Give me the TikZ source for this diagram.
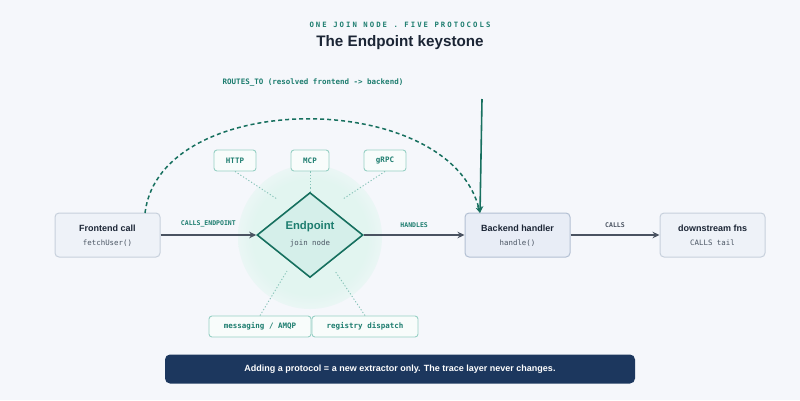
\documentclass[tikz,border=0pt]{standalone}
\usepackage{fontspec}
\setmainfont{Liberation Sans}
\setmonofont{DejaVu Sans Mono}
\newfontfamily\spacedmono[LetterSpace=28]{DejaVu Sans Mono}
\usetikzlibrary{arrows.meta,shapes.geometric,calc}
\definecolor{bgc}{HTML}{F5F7FB}
\definecolor{teal}{HTML}{1D7D6F}
\definecolor{tealdark}{HTML}{17705F}
\definecolor{titlec}{HTML}{1B2535}
\definecolor{grayt}{HTML}{4A5563}
\definecolor{arrowc}{HTML}{4A5361}
\definecolor{boxfill}{HTML}{EEF2F8}
\definecolor{boxline}{HTML}{C7D0DC}
\definecolor{backfill}{HTML}{E8EDF6}
\definecolor{backline}{HTML}{B3C0D3}
\definecolor{glowc}{HTML}{E2F5F0}
\definecolor{diafill}{HTML}{D5EFEA}
\definecolor{protoline}{HTML}{97D0C4}
\definecolor{protofill}{HTML}{F8FCFB}
\definecolor{dotc}{HTML}{86C3B8}
\definecolor{bannerc}{HTML}{1C375E}
\pgfdeclareradialshading{glowshade}{\pgfpoint{0bp}{0bp}}{color(0bp)=(glowc); color(20bp)=(glowc); color(31bp)=(bgc); color(50bp)=(bgc)}
\tikzset{
  card/.style={draw=boxline, fill=boxfill, line width=1pt, rounded corners=4pt, minimum width=105pt, minimum height=44pt, inner sep=0pt},
  cardtitle/.style={font=\fontsize{9}{10}\selectfont\bfseries, text=titlec, inner sep=0pt},
  cardsub/.style={font=\fontsize{7.4}{9}\ttfamily, text=grayt, inner sep=0pt},
  proto/.style={draw=protoline, fill=protofill, line width=0.9pt, rounded corners=3pt, minimum height=21pt, inner sep=0pt, text=teal, font=\fontsize{7.5}{9}\ttfamily\bfseries},
  flow/.style={draw=arrowc, line width=1.3pt, -{Stealth[length=7pt,width=6.5pt]}},
  edgelab/.style={font=\fontsize{6.5}{8}\ttfamily\bfseries, inner sep=0pt},
  dotline/.style={draw=dotc, line width=0.9pt, dash pattern=on 1.2pt off 2pt},
}
\begin{document}
\begin{tikzpicture}[x=1pt,y=-1pt]
\fill[bgc] (0,0) rectangle (800,400);
\useasboundingbox (0,0) rectangle (800,400);

% titles
\node[font=\fontsize{7.3}{9}\spacedmono\bfseries, text=teal, inner sep=0pt] (sub) at (400,25) {ONE JOIN NODE . FIVE PROTOCOLS};
\node[font=\fontsize{15.2}{17}\selectfont\bfseries, text=titlec, inner sep=0pt] (title) at (400,43) {The Endpoint keystone};
\node[font=\fontsize{7.5}{9}\ttfamily\bfseries, text=teal, inner sep=0pt] (routes) at (313,83) {ROUTES\_TO (resolved frontend -> backend)};

% glow
\shade[shading=glowshade] (310,237) circle (72);

% cards
\node[card] (front) at (107.5,235) {};
\node[cardtitle] (fronttitle) at (107.5,228) {Frontend call};
\node[cardsub] (frontsub) at (107.5,243) {fetchUser()};

\node[card, fill=backfill, draw=backline] (back) at (517.5,235) {};
\node[cardtitle] (backtitle) at (517.5,228) {Backend handler};
\node[cardsub] (backsub) at (517.5,243) {handle()};

\node[card] (down) at (712.5,235) {};
\node[cardtitle] (downtitle) at (712.5,228) {downstream fns};
\node[cardsub] (downsub) at (712.5,243) {CALLS tail};

% diamond
\node[diamond, draw=tealdark, fill=diafill, line width=1.6pt, minimum width=106pt, minimum height=85pt, inner sep=0pt] (ep) at (310,235) {};
\node[font=\fontsize{11.3}{13}\selectfont\bfseries, text=teal, inner sep=0pt] (eptitle) at (310,227) {Endpoint};
\node[cardsub] (epsub) at (310,243) {join node};

% protocol boxes
\node[proto, minimum width=42pt] (http) at (235,160.5) {HTTP};
\node[proto, minimum width=38pt] (mcp) at (310,160.5) {MCP};
\node[proto, minimum width=42pt] (grpc) at (385,160.5) {gRPC};
\node[proto, minimum width=102pt] (amqp) at (260,326.5) {messaging / AMQP};
\node[proto, minimum width=106pt] (reg) at (365,326.5) {registry dispatch};

\coordinate (httpend) at (277,199);
\coordinate (grpcend) at (343,199);
\coordinate (amqpend) at (287,271);
\coordinate (regend) at (335,271);
\draw[dotline] (http.south) -- (httpend);
\draw[dotline] (mcp.south) -- (ep.north);
\draw[dotline] (grpc.south) -- (grpcend);
\draw[dotline] (amqp.north) -- (amqpend);
\draw[dotline] (reg.north) -- (regend);

% flow arrows
\draw[flow] (front.east) -- node[edgelab, text=teal, above=7pt] (l1) {CALLS\_ENDPOINT} (ep.west);
\draw[flow] (ep.east) -- node[edgelab, text=teal, above=7pt] (l2) {HANDLES} (back.west);
\draw[flow] (back.east) -- node[edgelab, text=arrowc, above=7pt] (l3) {CALLS} (down.west);

% routes
\coordinate (arcstart) at (145,213);
\coordinate (hit) at (480,213);
\coordinate (vtop) at (482,99);
\draw[draw=tealdark, line width=1.5pt, dash pattern=on 4pt off 3pt, -{Stealth[length=6pt,width=6pt]}] (arcstart) .. controls (160,88) and (450,88) .. (hit);
\draw[draw=tealdark, line width=1.6pt, -{Stealth[length=7pt,width=6.5pt]}] (vtop) -- (hit);

% banner
\node[fill=bannerc, rounded corners=5pt, minimum width=470pt, minimum height=29pt, inner sep=0pt, text=white, font=\fontsize{9}{11}\selectfont\bfseries] (banner) at (400,369) {Adding a protocol = a new extractor only. The trace layer never changes.};
\end{tikzpicture}
\end{document}
